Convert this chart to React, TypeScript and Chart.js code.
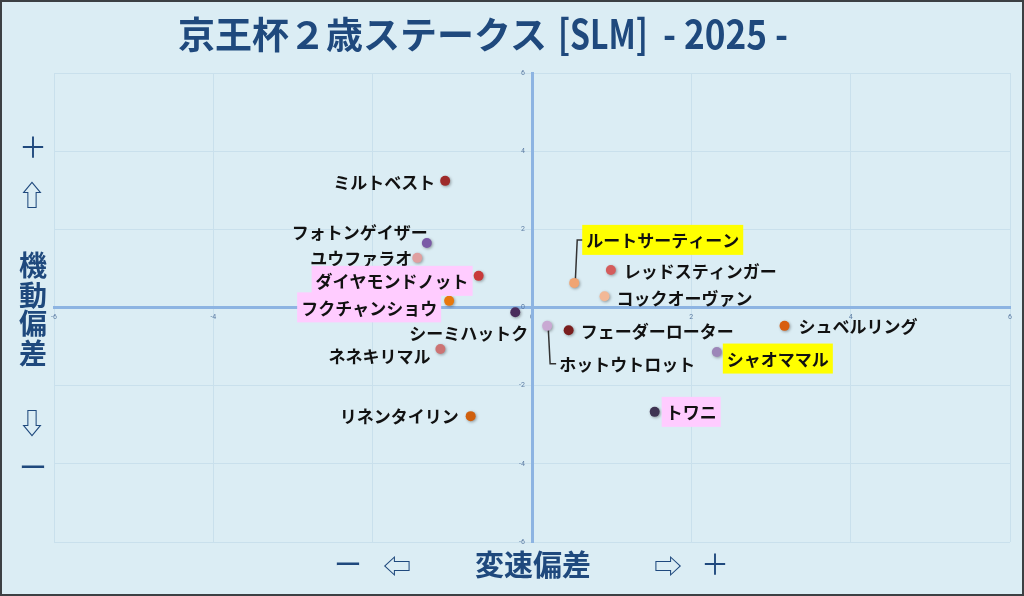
import { useEffect, useRef } from 'react'
import { Chart, ScatterController, PointElement, LinearScale } from 'chart.js'
import type { Plugin } from 'chart.js'

Chart.register(ScatterController, PointElement, LinearScale)

const TITLE_MAIN = '京王杯２歳ステークス'
const TITLE_TAG = '[SLM]'
const TITLE_YEAR = '- 2025 -'

const HORSES = [
  'ミルトベスト', 'フォトンゲイザー', 'ユウファラオ', 'ダイヤモンドノット',
  'フクチャンショウ', 'シーミハットク', 'ネネキリマル', 'リネンタイリン',
  'ルートサーティーン', 'レッドスティンガー', 'コックオーヴァン', 'ホットウトロット',
  'フェーダーローター', 'シュベルリング', 'シャオママル', 'トワニ',
]
// 変速偏差 (x)
const SPEED_DEV = [-1.09, -1.32, -1.44, -0.67, -1.04, -0.21, -1.15, -0.77, 0.53, 0.99, 0.91, 0.19, 0.46, 3.17, 2.32, 1.54]
// 機動偏差 (y)
const AGILITY_DEV = [3.24, 1.65, 1.27, 0.81, 0.17, -0.12, -1.06, -2.78, 0.63, 0.96, 0.29, -0.47, -0.58, -0.47, -1.14, -2.67]
const DOT_COLORS = [
  '#9e2a2a', '#7a5aa6', '#e0a0a0', '#c83a3a',
  '#e8780c', '#4a2c5c', '#cc7474', '#d0600e',
  '#f0a472', '#d45c5c', '#f2b896', '#c9a9d3',
  '#7a1e1e', '#d85e10', '#9c86b8', '#3f3352',
]
const AXIS_TICKS = [-6, -4, -2, 0, 2, 4, 6]

const BG = '#dbedf4'
const NAVY = '#1f497d'
const YELLOW = '#ffff00'
const PINK = '#ffccff'

type Tag = { side: 'l' | 'r'; dx: number; dy: number; bg?: string; leader?: boolean }
// label placement for each horse, same order as HORSES
const TAGS: Tag[] = [
  { side: 'l', dx: -10, dy: 1 },
  { side: 'l', dx: 1, dy: -11 },
  { side: 'l', dx: -5, dy: 0 },
  { side: 'l', dx: -10, dy: 5, bg: PINK },
  { side: 'l', dx: -12, dy: 6.5, bg: PINK },
  { side: 'l', dx: 13, dy: 20 },
  { side: 'l', dx: -10, dy: 7 },
  { side: 'l', dx: -12, dy: -1 },
  { side: 'r', dx: 12, dy: -43, bg: YELLOW, leader: true },
  { side: 'r', dx: 13, dy: 1 },
  { side: 'r', dx: 12, dy: 1 },
  { side: 'r', dx: 12, dy: 38, leader: true },
  { side: 'r', dx: 12, dy: 0 },
  { side: 'r', dx: 14, dy: 0 },
  { side: 'r', dx: 10, dy: 6.5, bg: YELLOW },
  { side: 'r', dx: 11, dy: 0, bg: PINK },
]

const LABEL_FONT = 'bold 17px "Noto Sans CJK JP", sans-serif'

const dotShadow: Plugin<'scatter'> = {
  id: 'dotShadow',
  beforeDatasetDraw(chart) {
    const ctx = chart.ctx
    ctx.save()
    ctx.shadowColor = 'rgba(0,0,0,0.35)'
    ctx.shadowBlur = 3
    ctx.shadowOffsetX = 1
    ctx.shadowOffsetY = 1
  },
  afterDatasetDraw(chart) {
    chart.ctx.restore()
  },
}

const horseTags: Plugin<'scatter'> = {
  id: 'horseTags',
  beforeDatasetsDraw(chart) {
    const ctx = chart.ctx
    const pts = chart.getDatasetMeta(0).data
    ctx.save()
    ctx.strokeStyle = '#333'
    ctx.lineWidth = 1.5
    TAGS.forEach((t, i) => {
      if (!t.leader) return
      const { x, y } = pts[i]
      ctx.beginPath()
      ctx.moveTo(x + 1, y)
      ctx.lineTo(x + 3, y + t.dy)
      ctx.lineTo(x + t.dx - 3, y + t.dy)
      ctx.stroke()
    })
    ctx.restore()
  },
  afterDatasetsDraw(chart) {
    const ctx = chart.ctx
    const pts = chart.getDatasetMeta(0).data
    ctx.save()
    ctx.font = LABEL_FONT
    ctx.textBaseline = 'middle'
    HORSES.forEach((name, i) => {
      const t = TAGS[i]
      const { x, y } = pts[i]
      const w = ctx.measureText(name).width
      const left = t.side === 'r' ? x + t.dx : x + t.dx - w
      const cy = y + t.dy
      if (t.bg) {
        ctx.fillStyle = t.bg
        ctx.fillRect(left - 4, cy - 15, w + 8, 30)
      }
      ctx.fillStyle = '#111'
      ctx.textAlign = 'left'
      ctx.fillText(name, left, cy + 1)
    })
    ctx.restore()
  },
}

function Mark({ x, y, size, weight = 700, children }: { x: number; y: number; size: number; weight?: number; children: string }) {
  return (
    <div style={{
      position: 'absolute', left: x, top: y, transform: 'translate(-50%, -50%)',
      fontSize: size, fontWeight: weight, lineHeight: 1, whiteSpace: 'nowrap', color: NAVY,
    }}>{children}</div>
  )
}

export default function App() {
  const canvasRef = useRef<HTMLCanvasElement>(null)

  useEffect(() => {
    if (!canvasRef.current) return
    const gridColor = (c: any) => (c.tick && c.tick.value === 0 ? 'rgba(0,0,0,0)' : '#c9e0ec')
    const tickFont = { size: 7, family: 'Roboto' }
    const chart = new Chart(canvasRef.current, {
      type: 'scatter',
      data: {
        datasets: [{
          data: SPEED_DEV.map((v, i) => ({ x: v, y: AGILITY_DEV[i] })),
          pointBackgroundColor: DOT_COLORS,
          pointBorderWidth: 0,
          pointRadius: 5,
        }],
      },
      options: {
        responsive: false,
        animation: false,
        layout: { padding: { left: 54, right: 14, top: 73, bottom: 54 } },
        plugins: { legend: { display: false }, tooltip: { enabled: false } },
        scales: {
          x: {
            type: 'linear', min: -6, max: 6,
            position: { y: 0 },
            afterBuildTicks: (s) => { s.ticks = AXIS_TICKS.map(v => ({ value: v })) },
            grid: { color: gridColor, drawTicks: false },
            border: { color: '#8db4e2', width: 3 },
            ticks: { color: '#5a7aa2', font: tickFont, padding: 6 },
          },
          y: {
            type: 'linear', min: -6, max: 6,
            position: { x: 0 },
            afterBuildTicks: (s) => { s.ticks = AXIS_TICKS.map(v => ({ value: v })) },
            grid: { color: gridColor, drawTicks: false },
            border: { color: '#8db4e2', width: 3 },
            // keep the label clear of the centred axis line
            ticks: { color: '#5a7aa2', font: tickFont, callback: (v) => `${v}\u2003` },
          },
        },
      },
      plugins: [dotShadow, horseTags],
    })
    return () => { chart.destroy() }
  }, [])

  const titleBit = { position: 'absolute' as const, fontWeight: 700, lineHeight: 1, color: NAVY, whiteSpace: 'nowrap' as const }

  return (
    <div style={{
      position: 'fixed', left: 0, top: 0, width: 1024, height: 596, background: BG,
      fontFamily: '"Noto Sans CJK JP", sans-serif', overflow: 'hidden',
    }}>
      <canvas ref={canvasRef} width={1024} height={596} style={{ position: 'absolute', left: 0, top: 0 }} />
      <div style={{ ...titleBit, left: 178, top: 15, fontSize: 37 }}>{TITLE_MAIN}</div>
      <div style={{ ...titleBit, left: 558, top: 12, fontSize: 40, transform: 'scaleX(0.8)', transformOrigin: 'left' }}>{TITLE_TAG}</div>
      <div style={{ ...titleBit, left: 663, top: 12, fontSize: 40, transform: 'scaleX(0.88)', transformOrigin: 'left' }}>{TITLE_YEAR}</div>

      <Mark x={33} y={146} size={28} weight={400}>＋</Mark>
      <Mark x={32} y={194} size={28} weight={400}>⇧</Mark>
      <Mark x={33} y={264} size={28}>機</Mark>
      <Mark x={33} y={294} size={28}>動</Mark>
      <Mark x={33} y={322} size={28}>偏</Mark>
      <Mark x={33} y={352} size={28}>差</Mark>
      <Mark x={32} y={422} size={28} weight={400}>⇩</Mark>
      <Mark x={33} y={466} size={28} weight={400}>ー</Mark>

      <Mark x={348} y={563} size={28} weight={400}>ー</Mark>
      <Mark x={397} y={565} size={28} weight={400}>⇦</Mark>
      <Mark x={533} y={563} size={29}>変速偏差</Mark>
      <Mark x={668} y={565} size={28} weight={400}>⇨</Mark>
      <Mark x={715} y={563} size={28} weight={400}>＋</Mark>

      <div style={{ position: 'absolute', inset: 0, border: '2px solid #3c4043', boxSizing: 'border-box', pointerEvents: 'none' }} />
    </div>
  )
}
